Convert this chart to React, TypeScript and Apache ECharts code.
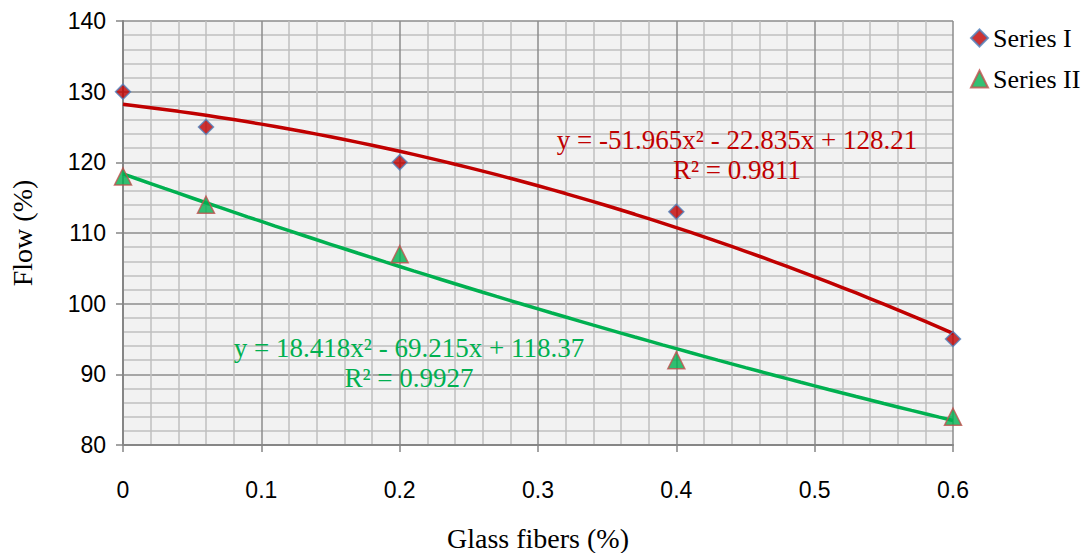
import React, { useEffect, useRef } from "react";
import * as echarts from "echarts";

const seriesNames = ["Series I", "Series II"];
const xValues = [0, 0.06, 0.2, 0.4, 0.6];
const seriesI = [130, 125, 120, 113, 95];
const seriesII = [118, 114, 107, 92, 84];
const trendI = [-51.965, -22.835, 128.21];
const trendII = [18.418, -69.215, 118.37];
const eqI = ["y = -51.965x² - 22.835x + 128.21", "R² = 0.9811"];
const eqII = ["y = 18.418x² - 69.215x + 118.37", "R² = 0.9927"];

const trendPoints = (c: number[]) => {
  const pts: number[][] = [];
  for (let i = 0; i <= 60; i++) {
    const x = i / 100;
    pts.push([x, c[0] * x * x + c[1] * x + c[2]]);
  }
  return pts;
};

export default function App() {
  const ref = useRef<HTMLDivElement>(null);
  useEffect(() => {
    if (!ref.current) return;
    const chart = echarts.init(ref.current, null, { renderer: "svg" });
    const serif = "'Liberation Serif', 'DejaVu Serif', serif";
    const sans = "'Liberation Sans', Arial, sans-serif";
    chart.setOption({
      animation: false,
      backgroundColor: "#ffffff",
      grid: {
        left: 123,
        right: 131,
        top: 21,
        bottom: 108,
        show: true,
        backgroundColor: "#f2f2f2",
        borderWidth: 0,
        outerBoundsMode: "none",
        containLabel: false,
      },
      legend: {
        orient: "vertical",
        left: 965,
        top: 20,
        itemGap: 15,
        itemWidth: 17,
        itemHeight: 17,
        textStyle: { fontFamily: serif, fontSize: 26, color: "#000", padding: [0, 0, 0, 0] },
        data: [
          { name: seriesNames[0], icon: "diamond" },
          { name: seriesNames[1], icon: "triangle" },
        ],
      },
      xAxis: {
        type: "value",
        min: 0,
        max: 0.6,
        interval: 0.1,
        name: "Glass fibers (%)",
        nameLocation: "middle",
        nameGap: 79,
        nameTextStyle: { fontFamily: serif, fontSize: 28, color: "#000" },
        axisLine: { show: true, lineStyle: { color: "#868686", width: 2 } },
        axisTick: { show: true, length: 7, lineStyle: { color: "#868686", width: 1.5 } },
        axisLabel: { fontFamily: sans, fontSize: 23, color: "#000", margin: 33 },
        splitLine: { show: true, lineStyle: { color: "#8c8c8c", width: 1.5 } },
        minorTick: { show: true, splitNumber: 5, length: 0, lineStyle: { opacity: 0 } },
        minorSplitLine: { show: true, lineStyle: { color: "#bfbfbf", width: 1.5 } },
      },
      yAxis: {
        type: "value",
        min: 80,
        max: 140,
        interval: 10,
        name: "Flow (%)",
        nameLocation: "middle",
        nameGap: 87,
        nameRotate: 90,
        nameTextStyle: { fontFamily: serif, fontSize: 28, color: "#000" },
        axisLine: { show: true, lineStyle: { color: "#868686", width: 2 } },
        axisTick: { show: true, length: 7, lineStyle: { color: "#868686", width: 1.5 } },
        axisLabel: { fontFamily: sans, fontSize: 23, color: "#000", margin: 17 },
        splitLine: { show: true, lineStyle: { color: "#8c8c8c", width: 1.5 } },
        minorTick: { show: true, splitNumber: 5, length: 0, lineStyle: { opacity: 0 } },
        minorSplitLine: { show: true, lineStyle: { color: "#bfbfbf", width: 1.5 } },
      },
      series: [
        {
          name: "trend I",
          type: "line",
          data: trendPoints(trendI),
          showSymbol: false,
          symbol: "none",
          lineStyle: { color: "#c00000", width: 3.5 },
          z: 2,
          silent: true,
        },
        {
          name: "trend II",
          type: "line",
          data: trendPoints(trendII),
          showSymbol: false,
          symbol: "none",
          lineStyle: { color: "#00b050", width: 3.5 },
          z: 2,
          silent: true,
        },
        {
          name: seriesNames[0],
          type: "scatter",
          data: xValues.map((x, i) => [x, seriesI[i]]),
          symbol: "diamond",
          symbolSize: 15,
          itemStyle: { color: "#c00000", borderColor: "#4f81bd", borderWidth: 1.5 },
          z: 5,
        },
        {
          name: seriesNames[1],
          type: "scatter",
          data: xValues.map((x, i) => [x, seriesII[i]]),
          symbol: "triangle",
          symbolSize: 17,
          itemStyle: { color: "#00b050", borderColor: "#c0504d", borderWidth: 1.5 },
          z: 5,
        },
      ],
      graphic: [
        {
          type: "text",
          x: 737,
          y: 155,
          style: {
            text: eqI[0] + "\n" + eqI[1],
            fontFamily: serif,
            fontSize: 27,
            fill: "#c00000",
            align: "center",
            verticalAlign: "middle",
            lineHeight: 30,
          },
          z: 10,
        },
        {
          type: "text",
          x: 409,
          y: 363,
          style: {
            text: eqII[0] + "\n" + eqII[1],
            fontFamily: serif,
            fontSize: 27,
            fill: "#00b050",
            align: "center",
            verticalAlign: "middle",
            lineHeight: 30,
          },
          z: 10,
        },
      ],
    });
    return () => chart.dispose();
  }, []);
  return <div ref={ref} style={{ width: 1084, height: 553, position: "absolute", left: 0, top: 0 }} />;
}
